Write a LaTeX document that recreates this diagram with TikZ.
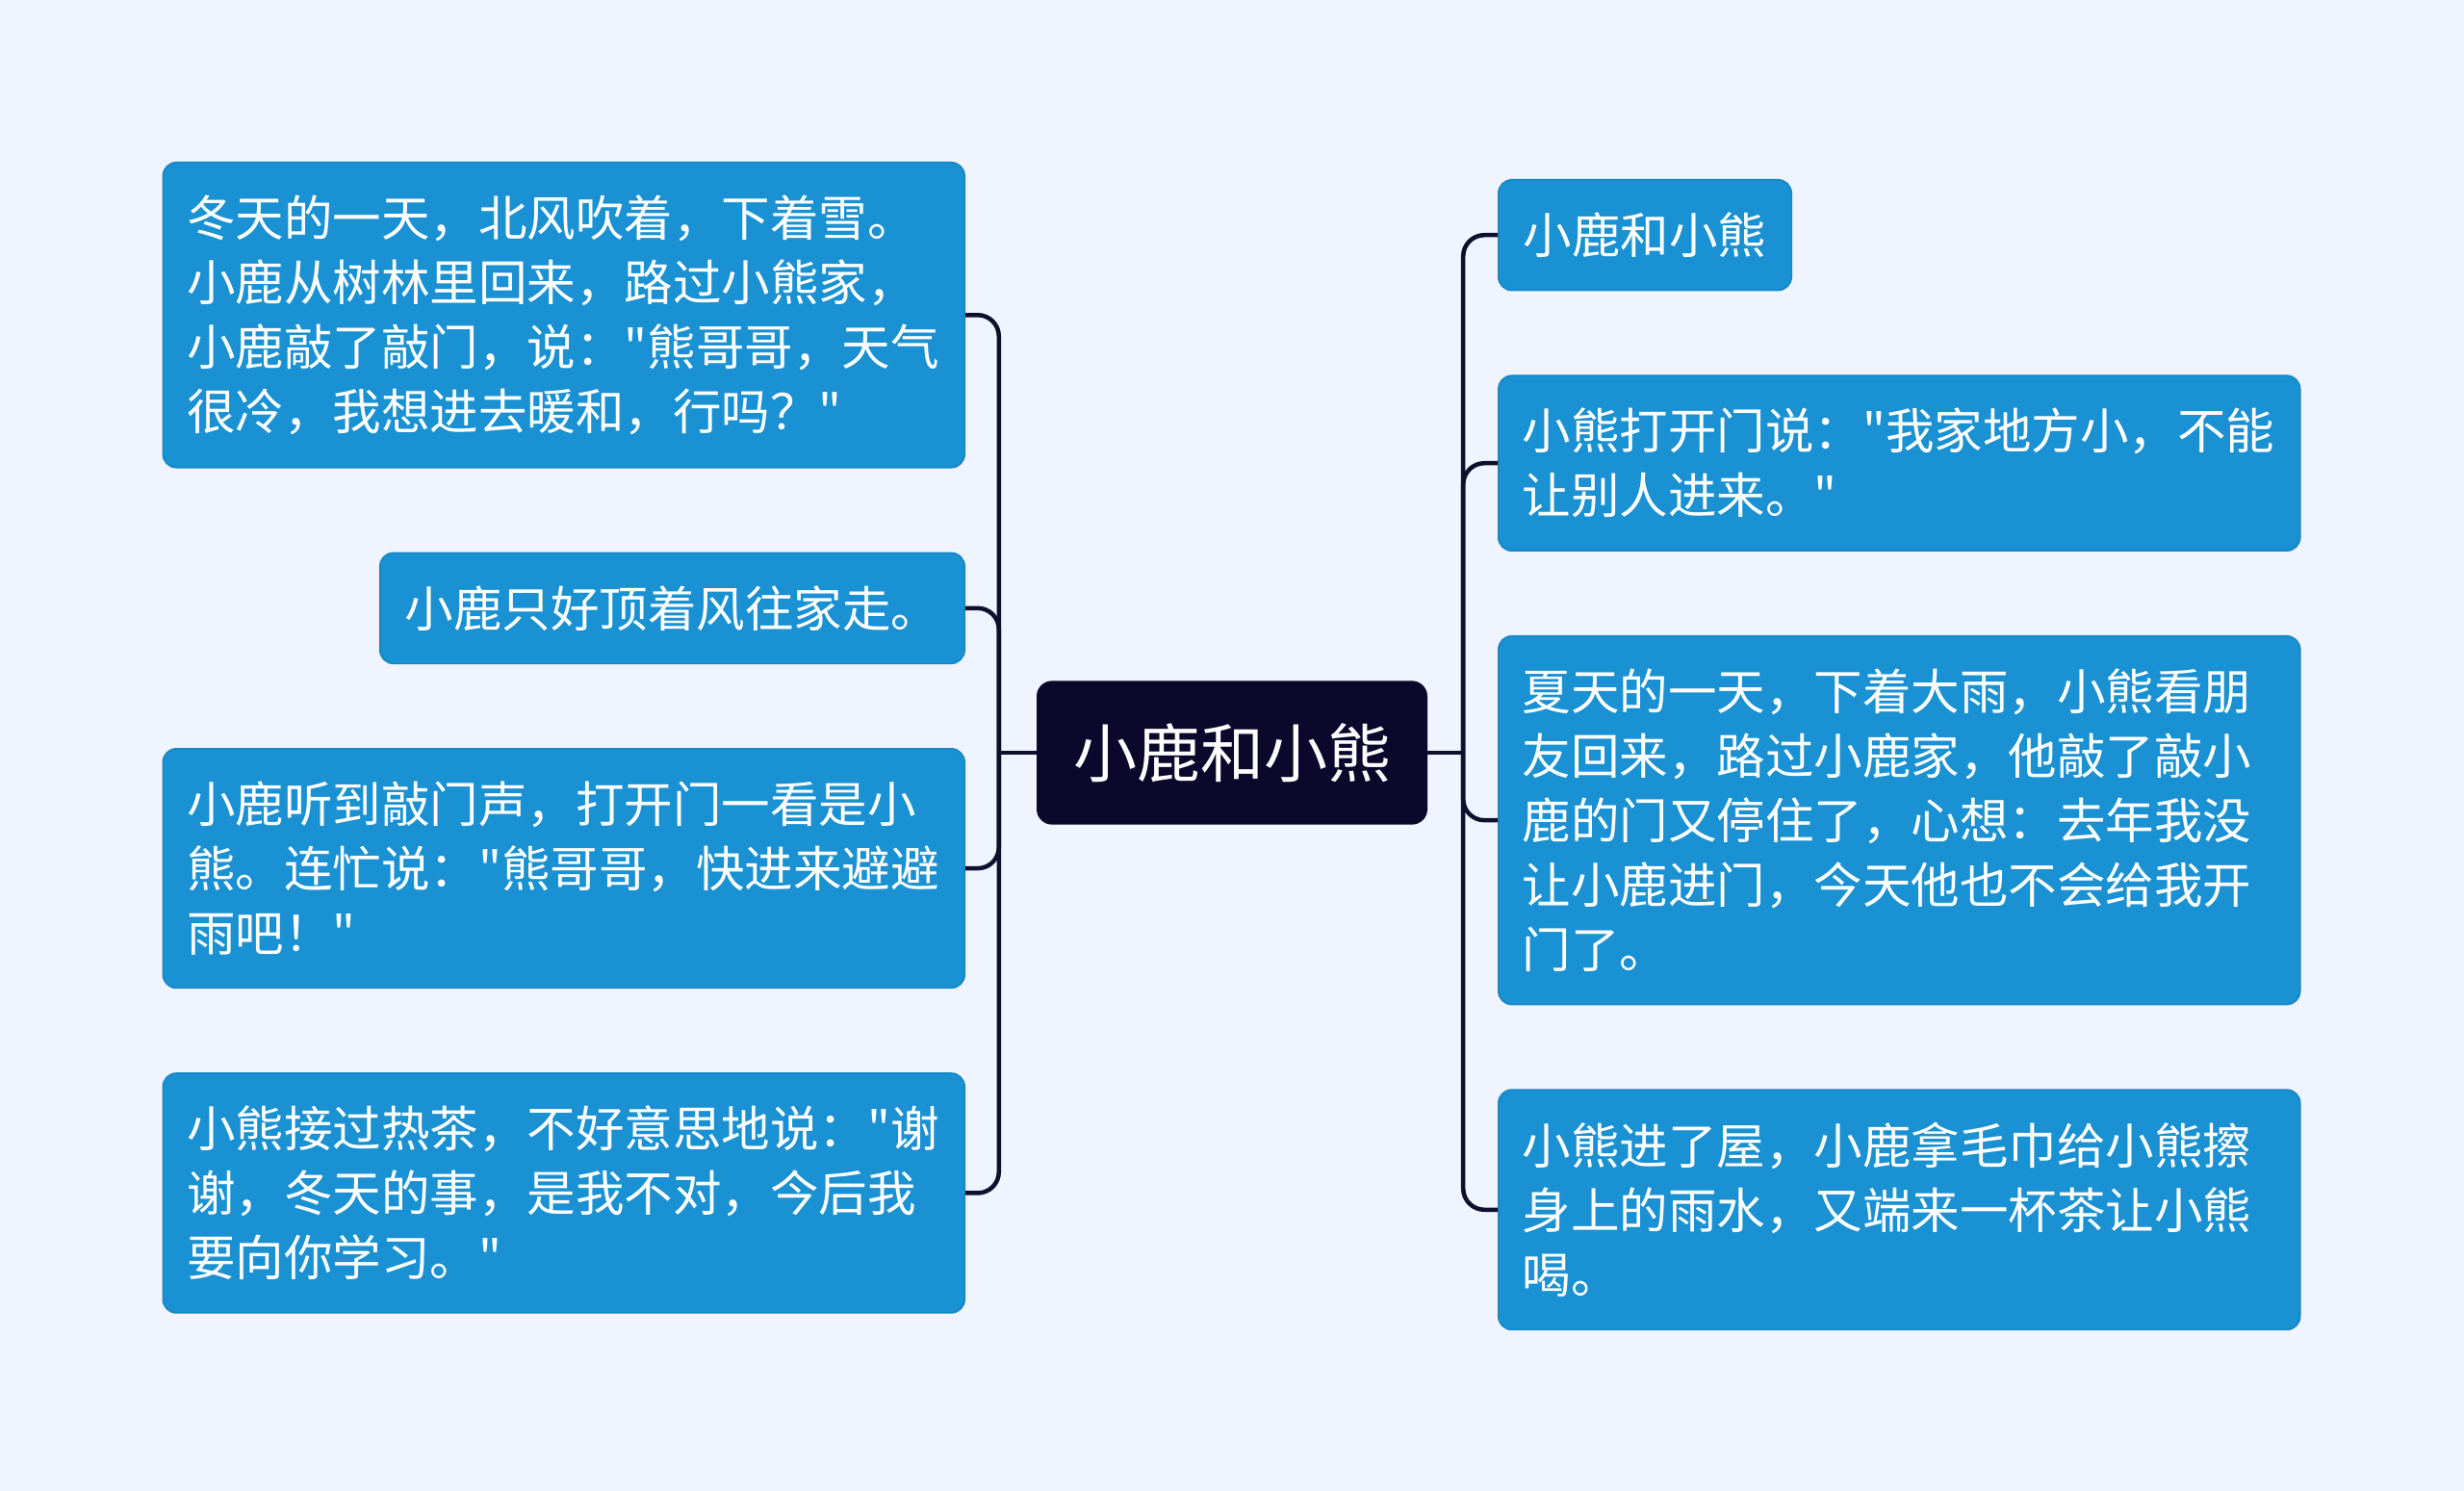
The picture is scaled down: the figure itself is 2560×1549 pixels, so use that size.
\documentclass[tikz,border=0pt]{standalone}
\usepackage{fontspec}
\setmainfont{Noto Sans CJK SC}[Ligatures=TeXOff]
\usetikzlibrary{positioning}
\definecolor{pagebg}{RGB}{239,244,254}
\definecolor{boxfill}{RGB}{26,145,210}
\definecolor{boxborder}{RGB}{22,134,196}
\definecolor{hubfill}{RGB}{11,8,44}
\definecolor{linkcol}{RGB}{16,15,46}
\tikzset{
  box/.style={rectangle, rounded corners=14pt, draw=boxborder, line width=1.5pt,
              fill=boxfill, text=white, align=left, inner xsep=26pt, inner ysep=34pt,
              font=\fontsize{50.5}{67}\selectfont},
  widebox/.style={box, inner xsep=25pt, text width=783pt},
  hub/.style={rectangle, rounded corners=16pt, fill=hubfill, text=white,
              inner xsep=38pt, inner ysep=44pt, font=\fontsize{66}{80}\selectfont},
  link/.style={line width=4.5pt, draw=linkcol, rounded corners=22pt}
}

\begin{document}
\begin{tikzpicture}[x=1pt, y=-1pt, node distance=87pt]
\fill[pagebg] (0,0) rectangle (2560,1549);
\useasboundingbox (0,0) rectangle (2560,1549);
\node[hub] (root) at (1280,782) {小鹿和小熊};
% left branch
\node[widebox, anchor=north east] (l1) at (1003,168) {冬天的一天，北风吹着，下着雪。\\小鹿从树林里回来，路过小熊家，\\小鹿敲了敲门，说："熊哥哥，天气\\很冷，我想进去暖和，行吗？"};
\node[box, below=of l1.south east, anchor=north east] (l2) {小鹿只好顶着风往家走。};
\node[widebox, below=of l2.south east, anchor=north east] (l3) {小鹿听到敲门声，打开门一看是小\\熊。连忙说："熊哥哥，快进来避避\\雨吧！"};
\node[widebox, below=of l3.south east, anchor=north east] (l4) {小熊接过热茶，不好意思地说："谢\\谢，冬天的事，是我不对，今后我\\要向你学习。"};
% right branch
\node[box, anchor=north west] (r1) at (1556,186) {小鹿和小熊};
\node[widebox, below=of r1.south west, anchor=north west] (r2) {小熊打开门说："我家地方小，不能\\让别人进来。"};
\node[widebox, below=of r2.south west, anchor=north west] (r3) {夏天的一天，下着大雨，小熊看朋\\友回来，路过小鹿家，他敲了敲小\\鹿的门又停住了，心想：去年我没\\让小鹿进门，今天他也不会给我开\\门了。};
\node[widebox, below=of r3.south west, anchor=north west] (r4) {小熊进了屋，小鹿拿毛巾给小熊擦\\身上的雨水，又端来一杯茶让小熊\\喝。};
\coordinate[left=39pt of root.west] (lj);
\coordinate[right=37pt of root.east] (rj);
\draw[link] (root.west) -- (lj); \draw[link] (root.east) -- (rj);
\foreach \n in {l1,l2,l3,l4} \draw[link] (lj) |- (\n.east);
\foreach \n in {r1,r2,r3,r4} \draw[link] (rj) |- (\n.west);
\end{tikzpicture}
\end{document}
